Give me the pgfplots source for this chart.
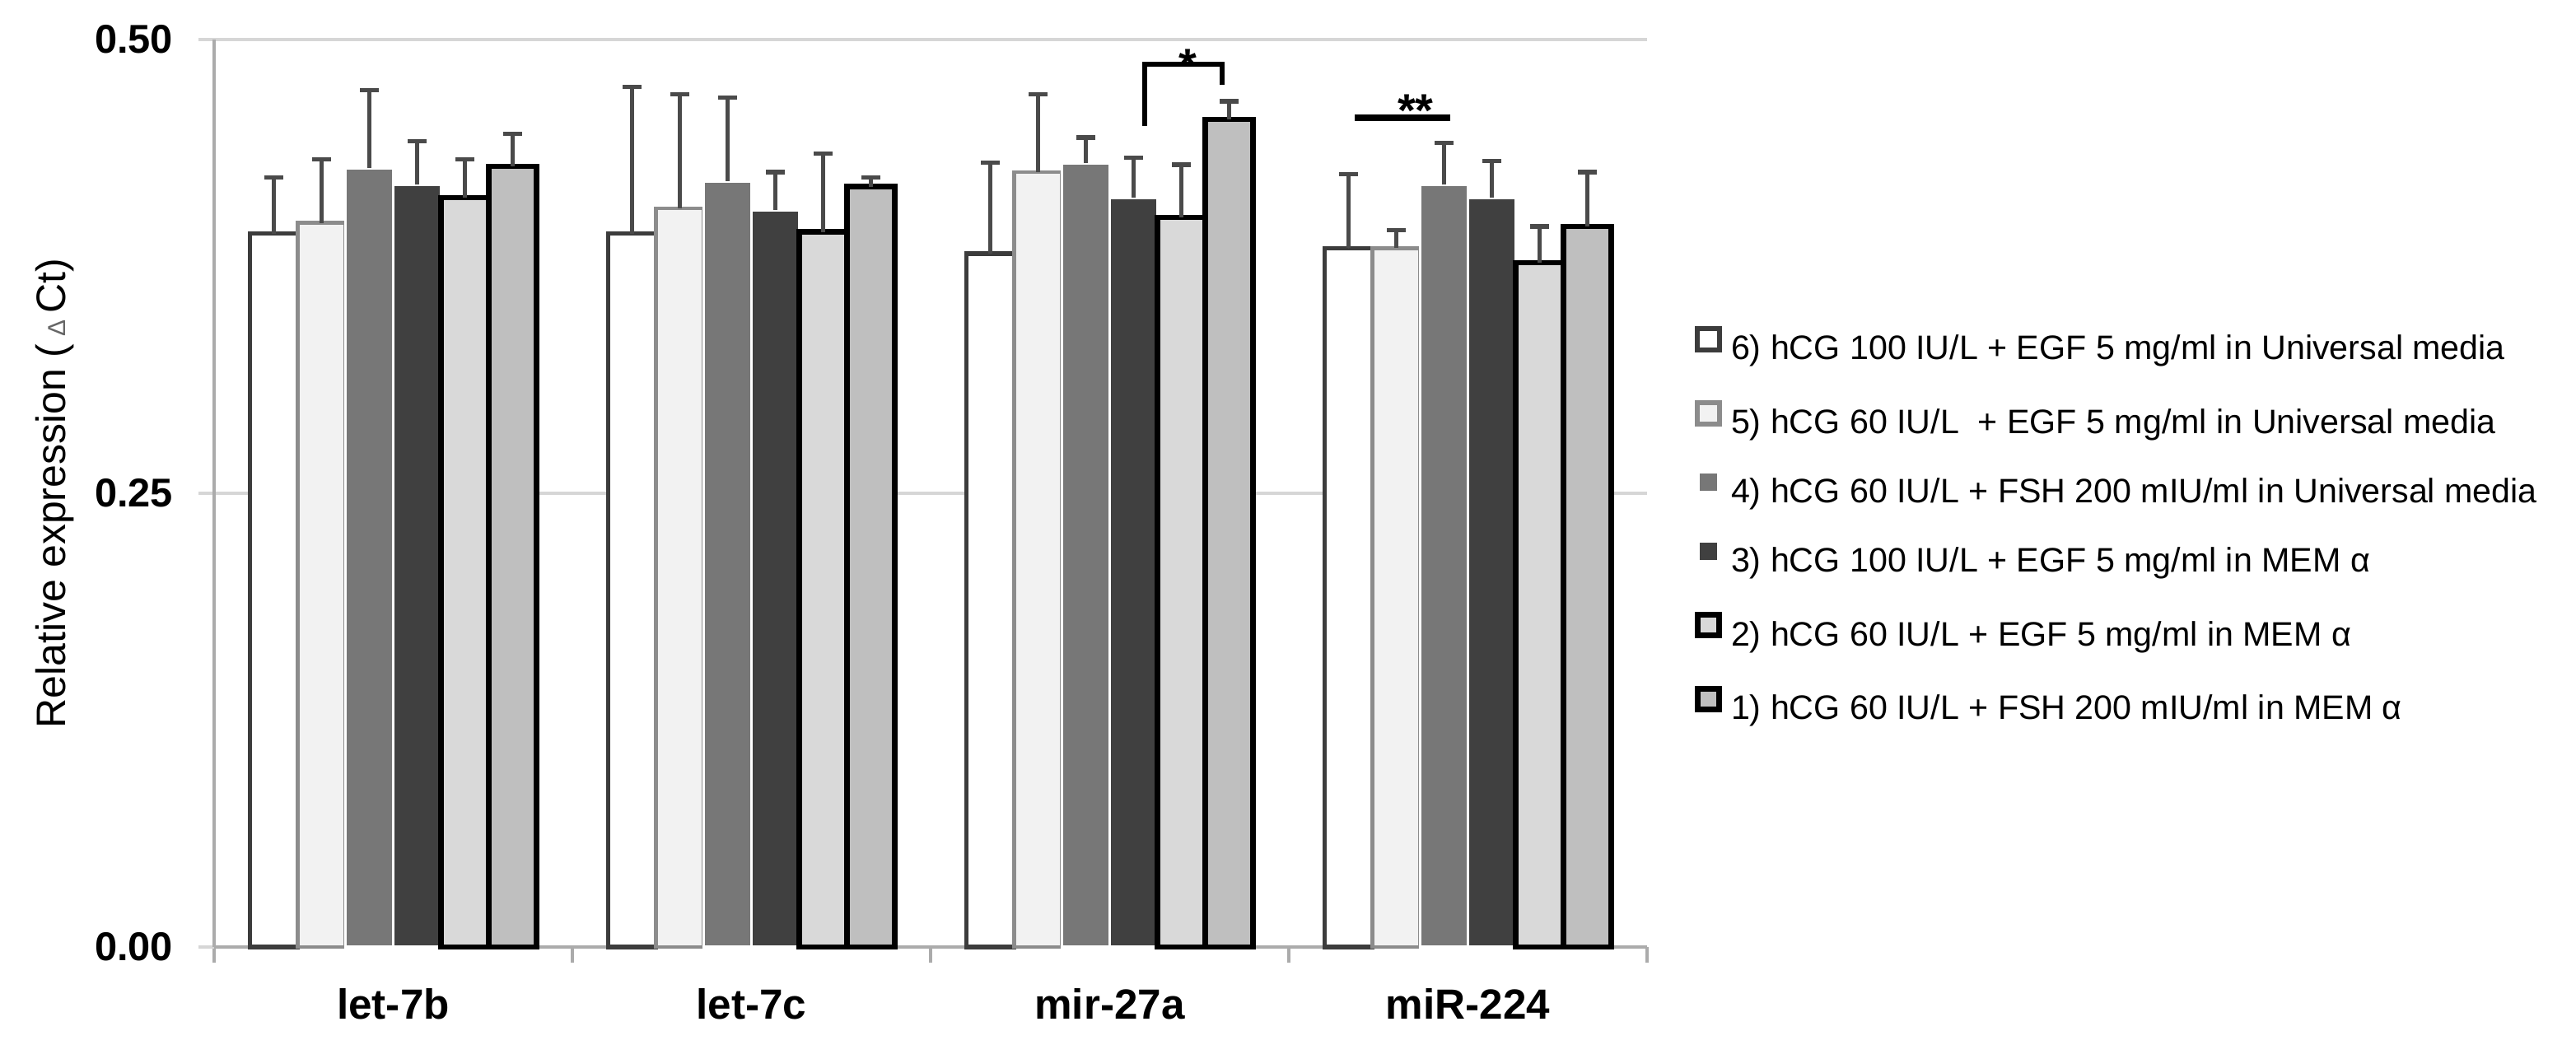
\documentclass[border=0pt]{standalone}
\usepackage{fontspec}
\setmainfont{Liberation Sans}
\usepackage{pgfplots}
\pgfplotsset{compat=1.18}
\definecolor{cA}{HTML}{FFFFFF}
\definecolor{cAb}{HTML}{3C3C3C}
\definecolor{cB}{HTML}{F2F2F2}
\definecolor{cBb}{HTML}{8C8C8C}
\definecolor{cC}{HTML}{777777}
\definecolor{cD}{HTML}{404040}
\definecolor{cE}{HTML}{D9D9D9}
\definecolor{cF}{HTML}{BFBFBF}
\definecolor{errc}{HTML}{4A4A4A}
\definecolor{gridc}{HTML}{D6D6D6}
\definecolor{axc}{HTML}{ABABAB}
\begin{document}
\begin{tikzpicture}
\path (0,0) rectangle (782pt,317pt);
\begin{axis}[
  at={(65pt,29.5pt)}, anchor=south west,
  scale only axis, width=435pt, height=275.5pt,
  xmin=-0.5, xmax=3.5, ymin=0, ymax=0.5,
  ybar=0pt, bar width=0.13333,
  axis lines*=left,
  axis line style={draw=axc, line width=1pt},
  tick align=outside,
  xtick={-0.5,0.5,1.5,2.5,3.5}, xticklabels={},
  x tick style={draw=axc, line width=1pt},
  major tick length=4.8pt,
  extra x ticks={0,1,2,3},
  extra x tick labels={let-7b,let-7c,mir-27a,miR-224},
  extra x tick style={major tick length=0pt, xticklabel style={anchor=base, inner sep=0pt, yshift=-21.8pt, font=\bfseries\fontsize{12.8}{14}\selectfont}},
  ytick={0,0.25,0.5}, yticklabels={0.00,0.25,0.50},
  y tick style={draw=gridc, line width=1pt},
  yticklabel style={anchor=east, inner sep=0pt, xshift=-7.5pt, font=\bfseries\fontsize{12.2}{14}\selectfont},
  ymajorgrids, major grid style={draw=gridc, line width=1pt},
  ylabel={Relative expression (\,{\fontsize{7.5}{8}\selectfont\textcolor{black!60}{Δ}}\,Ct)},
  ylabel style={at={(axis description cs:-0.111,0.5)}, anchor=center, font=\fontsize{12.5}{14}\selectfont},
  clip=false,
  legend cell align=left,
  legend style={at={(axis description cs:1,0.4635)}, anchor=west, xshift=14.5pt,
    draw=none, fill=none, inner sep=0pt, outer sep=0pt,
    row sep=10pt, column sep=2.8pt,
    nodes={inner sep=0pt, text height=7.4pt, text depth=2.2pt},
    font=\fontsize{10.3}{12}\selectfont},
  error bars/y dir=plus, error bars/y explicit,
  error bars/error bar style={draw=errc, line width=1.1pt},
  error bars/error mark options={draw=errc, line width=1.3pt, mark size=2.8pt, rotate=90},
]
\addplot[fill=cA, draw=cAb, line width=1.3pt, bar shift=-0.33333,
  legend image code/.code={\draw[fill=cA, draw=cAb, line width=1.5pt] (0.75pt,0.35pt) rectangle (7.45pt,6.85pt);}]
  coordinates {(0,0.393) +- (0,0.031) (1,0.393) +- (0,0.081) (2,0.382) +- (0,0.050) (3,0.385) +- (0,0.041)};
\addlegendentry{6) hCG 100 IU/L + EGF 5 mg/ml in Universal media}
\addplot[fill=cB, draw=cBb, line width=1.2pt, bar shift=-0.2,
  legend image code/.code={\draw[fill=cB, draw=cBb, line width=1.5pt] (0.75pt,0.35pt) rectangle (7.45pt,6.85pt);}]
  coordinates {(0,0.399) +- (0,0.035) (1,0.407) +- (0,0.063) (2,0.427) +- (0,0.043) (3,0.385) +- (0,0.010)};
\addlegendentry{5) hCG 60 IU/L \ + EGF 5 mg/ml in Universal media}
\addplot[fill=cC, draw=white, line width=0.9pt, bar shift=-0.06667,
  legend image code/.code={\fill[cC] (1.95pt,1.45pt) rectangle (6.25pt,5.75pt);}]
  coordinates {(0,0.429) +- (0,0.043) (1,0.422) +- (0,0.046) (2,0.432) +- (0,0.014) (3,0.420) +- (0,0.023)};
\addlegendentry{4) hCG 60 IU/L + FSH 200 mIU/ml in Universal media}
\addplot[fill=cD, draw=white, line width=0.9pt, bar shift=0.06667,
  legend image code/.code={\fill[cD] (1.95pt,1.45pt) rectangle (6.25pt,5.75pt);}]
  coordinates {(0,0.420) +- (0,0.024) (1,0.406) +- (0,0.021) (2,0.413) +- (0,0.022) (3,0.413) +- (0,0.020)};
\addlegendentry{3) hCG 100 IU/L + EGF 5 mg/ml in MEM α}
\addplot[fill=cE, draw=black, line width=1.6pt, bar shift=0.2,
  legend image code/.code={\draw[fill=cE, draw=black, line width=1.7pt] (0.85pt,0.45pt) rectangle (7.35pt,6.75pt);}]
  coordinates {(0,0.413) +- (0,0.021) (1,0.394) +- (0,0.043) (2,0.402) +- (0,0.029) (3,0.377) +- (0,0.020)};
\addlegendentry{2) hCG 60 IU/L + EGF 5 mg/ml in MEM α}
\addplot[fill=cF, draw=black, line width=1.6pt, bar shift=0.33333,
  legend image code/.code={\draw[fill=cF, draw=black, line width=1.7pt] (0.85pt,0.45pt) rectangle (7.35pt,6.75pt);}]
  coordinates {(0,0.430) +- (0,0.018) (1,0.419) +- (0,0.005) (2,0.456) +- (0,0.010) (3,0.397) +- (0,0.030)};
\addlegendentry{1) hCG 60 IU/L + FSH 200 mIU/ml in MEM α}
% significance marks
\draw[black, line width=1.6pt] (axis cs:2.0977,0.4523) -- (axis cs:2.0977,0.4864) -- (axis cs:2.3138,0.4864) -- (axis cs:2.3138,0.475);
\node[anchor=base, inner sep=0pt, font=\bfseries\fontsize{14}{14}\selectfont] at (axis cs:2.217,0.477) {*};
\draw[black, line width=2pt] (axis cs:2.684,0.457) -- (axis cs:2.951,0.457);
\node[anchor=base, inner sep=0pt, font=\bfseries\fontsize{14}{14}\selectfont] at (axis cs:2.854,0.452) {**};
\end{axis}
\end{tikzpicture}
\end{document}
